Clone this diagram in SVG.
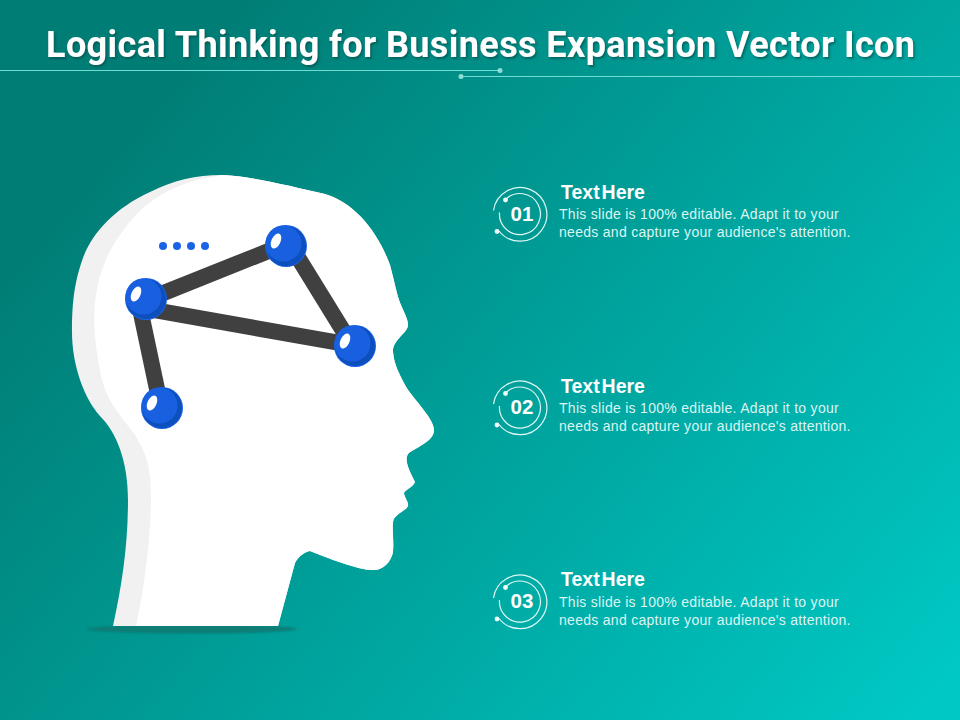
<svg xmlns="http://www.w3.org/2000/svg" width="960" height="720" viewBox="0 0 960 720">
<style>
.t{font-family:"Liberation Sans",Arial,sans-serif;fill:#fff}
.h{font-size:19.5px;font-weight:700;word-spacing:-3.5px}
.b{font-size:14px;letter-spacing:.29px;fill:#dcf5f3}
.n{font-size:20.5px;font-weight:700;text-anchor:middle}
.r{fill:none;stroke:#dff8f5;stroke-width:1.2}
.bar{stroke:#404040;stroke-width:16;stroke-linecap:butt}
.rule{stroke:#6fdcd5;stroke-width:1}
</style>
<defs>
<linearGradient id="bg" gradientUnits="userSpaceOnUse" x1="170" y1="70" x2="930" y2="720">
<stop offset="0" stop-color="#007d75"/><stop offset="1" stop-color="#00c9c5"/>
</linearGradient>
<filter id="sh" x="-5%" y="-20%" width="110%" height="150%"><feDropShadow dx="1.5" dy="2" stdDeviation="1" flood-color="#04504c" flood-opacity=".7"/></filter>
<filter id="bl" x="-5%" y="-60%" width="110%" height="220%"><feGaussianBlur stdDeviation="1"/></filter>
<g id="ball">
<circle r="21" fill="#1a63e6"/>
<circle r="20" fill="#0d4fbd"/>
<circle r="18" cx="-2.5" cy="-2.5" fill="#1860e0"/>
<ellipse cx="-10" cy="-5" rx="4.5" ry="8" transform="rotate(25 -10 -5)" fill="#fff"/>
</g>
<g id="badge">
<path class="r" d="M-14.5-13A20.5 20.5 0 1 1-20.5 0"/>
<path class="r" d="M-21 18.500A26.800 26.800 0 1 0-26.500-2"/>
<circle cx="-14.500" cy="-12.500" r="2.400" fill="#eefcfa"/>
<circle cx="-23" cy="19" r="2.400" fill="#eefcfa"/>
</g>
</defs>
<rect width="960" height="720" fill="url(#bg)"/>
<g id="title">
<text class="t" x="46" y="57" font-size="36" font-weight="700" textLength="869" lengthAdjust="spacing" style="font-family:Roboto,'Liberation Sans',sans-serif" filter="url(#sh)">Logical Thinking for Business Expansion Vector Icon</text>
<line class="rule" x1="0" y1="70.5" x2="500" y2="70.5"/>
<line class="rule" x1="461" y1="76.5" x2="960" y2="76.5"/>
<circle cx="500" cy="70.5" r="2.5" fill="#8fdcd6"/>
<circle cx="461" cy="76.5" r="2.5" fill="#8fdcd6"/>
</g>
<g id="head">
<ellipse cx="191.500" cy="629" rx="105" ry="4.500" fill="#087d76" filter="url(#bl)"/>
<path fill="#f1f1f1" d="M113 626C122 585 128 545 128 500C128 460 116 432 100 416C84 398 72 365 72 332C72 300 75 280 83 258C92 233 115 208 150 192C175 180 195 175 222 175C250 176 290 186 325 194C355 203 378 232 390 265C394 280 396 290 399 300C403 311 408 318 408 325C408 333 392 340 393 352C394 365 400 375 405 385C412 398 434 418 434 430C434 442 414 448 408 454C404 460 409 470 415 482C413 487 405 490 404 493C404 497 409 502 408 506C405 512 394 514 393 522C392 530 394 540 393 552C391 562 383 571 372 570C358 570 325 557 310 551C304 552 298 557 295 563L278 626Z"/>
<path fill="#fff" d="M136 626C145 585 151 535 151 497C151 465 145 450 133 432C115 410 104 395 100 370C95 345 92 320 96 295C100 265 115 235 143 208C165 190 185 181 222 175C250 176 290 186 325 194C355 203 378 232 390 265C394 280 396 290 399 300C403 311 408 318 408 325C408 333 392 340 393 352C394 365 400 375 405 385C412 398 434 418 434 430C434 442 414 448 408 454C404 460 409 470 415 482C413 487 405 490 404 493C404 497 409 502 408 506C405 512 394 514 393 522C392 530 394 540 393 552C391 562 383 571 372 570C358 570 325 557 310 551C304 552 298 557 295 563L278 626Z"/>
<g fill="#1a63e6"><circle cx="163" cy="246" r="4"/><circle cx="177" cy="246" r="4"/><circle cx="191" cy="246" r="4"/><circle cx="205" cy="246" r="4"/></g>
</g>
<g id="connectors">
<line class="bar" x1="146" y1="300" x2="286" y2="244"/>
<line class="bar" x1="286" y1="238" x2="355" y2="350"/>
<line class="bar" x1="146" y1="308.700" x2="355" y2="345.600"/>
<line class="bar" x1="138" y1="299" x2="161" y2="408"/>
</g>
<g id="node-a"><use href="#ball" x="286" y="246"/></g>
<g id="node-b"><use href="#ball" x="146" y="299"/></g>
<g id="node-c"><use href="#ball" x="355" y="346"/></g>
<g id="node-d"><use href="#ball" x="162" y="408"/></g>
<g id="item-1"><use href="#badge" x="520" y="212.500"/><text class="t n" x="522" y="221">01</text>
<text class="t h" x="561" y="198.500">Text Here</text>
<text class="t b" x="559" y="218.500">This slide is 100% editable. Adapt it to your</text>
<text class="t b" x="559" y="236.500">needs and capture your audience's attention.</text></g>
<g id="item-2"><use href="#badge" x="520" y="406"/><text class="t n" x="522" y="414">02</text>
<text class="t h" x="561" y="392.500">Text Here</text>
<text class="t b" x="559" y="412.500">This slide is 100% editable. Adapt it to your</text>
<text class="t b" x="559" y="430.500">needs and capture your audience's attention.</text></g>
<g id="item-3"><use href="#badge" x="520" y="600"/><text class="t n" x="522" y="608">03</text>
<text class="t h" x="561" y="585.500">Text Here</text>
<text class="t b" x="559" y="606.500">This slide is 100% editable. Adapt it to your</text>
<text class="t b" x="559" y="624.500">needs and capture your audience's attention.</text></g>
</svg>
